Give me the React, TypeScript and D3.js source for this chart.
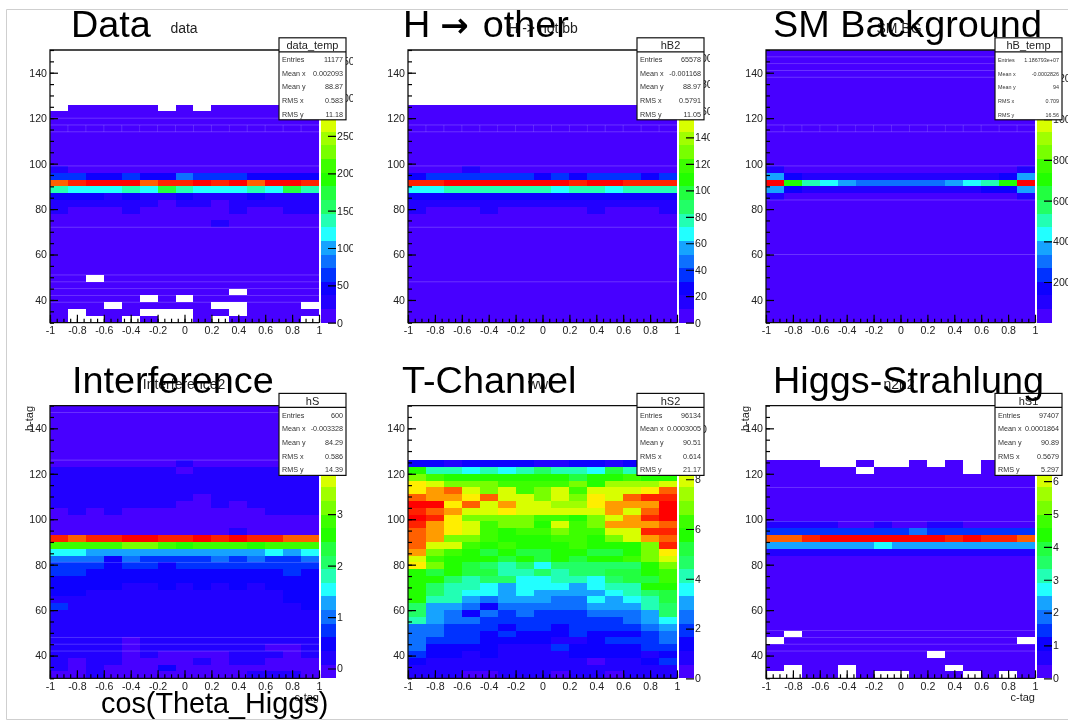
import { useEffect, useRef } from "react";
import * as d3 from "d3";

// contour colours of the ROOT rainbow palette, bottom to top
const PALETTE = [
  "#4700ff", "#2200ff", "#0800ff", "#0032ff", "#1070ff",
  "#14a3ff", "#20ffff", "#20ffb4", "#20ff66", "#20ff40",
  "#20ff00", "#3cff00", "#78ff00", "#a0ff00", "#d8ff00",
  "#ffee00", "#ff9c00", "#ff6000", "#ff2000", "#ff0000",
];

// Each string is one row of 15 cos(theta) bins, top row first (y 147-150 down to 30-33).
// A character is the contour level in base 36, "." is an empty bin.
const EMPTY = "...............";
const ZERO = "000000000000000";
const ONE = "111111111111111";

const dataRows = [
  EMPTY, EMPTY, EMPTY, EMPTY, EMPTY, EMPTY, EMPTY, EMPTY,
  ".00000.0.000000",
  ZERO, ZERO, ZERO, ZERO, ZERO, ZERO, ZERO, ZERO,
  "100000000000000",
  "332232243332222",
  "hijjjhiijijhjji",
  "766676976667697",
  "222121121112111",
  "111111011011111",
  "100010000010011",
  ZERO,
  "000000000100000",
  ZERO, ZERO, ZERO, ZERO, ZERO, ZERO, ZERO,
  "00.000000000000",
  ZERO,
  "0000000000.0000",
  "00000.0.0000000",
  "000.00000..000.",
  "0.000...00.0000",
  "0..0.0..0.0000.",
];

const otherRows = [
  EMPTY, EMPTY, EMPTY, EMPTY, EMPTY, EMPTY, EMPTY, EMPTY,
  ZERO, ZERO, ZERO, ZERO, ZERO, ZERO, ZERO, ZERO, ZERO,
  "000100000000000",
  "233333323233323",
  "iijjjjjjjijjiii",
  "667777776776777",
  "222222222222222",
  ONE,
  "100010000010001",
  ZERO, ZERO, ZERO, ZERO, ZERO, ZERO, ZERO, ZERO,
  ZERO, ZERO, ZERO, ZERO, ZERO, ZERO, ZERO, ZERO,
];

const smRows = [
  ZERO, ZERO, ZERO, ZERO, ZERO, ZERO, ZERO, ZERO,
  ZERO, ZERO, ZERO, ZERO, ZERO, ZERO, ZERO, ZERO,
  ZERO,
  "100000000000001",
  "521111111111125",
  "ja76544444567aj",
  "521111111111225",
  "100000000000001",
  ZERO, ZERO, ZERO, ZERO, ZERO, ZERO, ZERO, ZERO, ZERO,
  ZERO, ZERO, ZERO, ZERO, ZERO, ZERO, ZERO, ZERO, ZERO,
];

const interferenceRows = [
  ZERO, ZERO, ZERO, ZERO, ZERO, ZERO, ZERO, ZERO,
  "000000010000000",
  "111111101111111",
  ONE, ONE, ONE,
  "111111110111111",
  "111111100101111",
  "010100000000111",
  ZERO, ZERO,
  "000000000010000",
  "ihiijjiijijiihh",
  "bbbbccbabbbabbb",
  "665555555555656",
  "444243333434334",
  "333233233333333",
  "332222222222232",
  "222222222222222",
  "222211212121222",
  "221111111111122",
  "111111111111122",
  "311111111111112",
  ONE, ONE, ONE, ONE,
  "111101111111111",
  "111101111111001",
  "111101000011101",
  "101100001011000",
  "101000200000000",
  "001000000001110",
];

const tChannelRows = [
  EMPTY, EMPTY, EMPTY, EMPTY, EMPTY, EMPTY, EMPTY, EMPTY,
  "221222211221222",
  "a77676787769788",
  "cbaaaaaaa9aabaa",
  "fecccbbbbcaddde",
  "fghecebcebeeefh",
  "hggfheececfehii",
  "jjfhegeeddfgggj",
  "ihgeefeeeeegehj",
  "jifccccbbacegij",
  "igfebccaebcgggh",
  "hgfebabbcbbeeii",
  "hgccbaaabbacegh",
  "heebabaaabaaaci",
  "gcba9a99aa99acf",
  "ebaaa9a9a9aabce",
  "fca9878688888ac",
  "a9a9977878899ab",
  "aa878866776899b",
  "a877656665677aa",
  "a87665655556789",
  "a77545554465679",
  "855424444455578",
  "854243433344458",
  "754433333333456",
  "443332332333345",
  "443323222322234",
  "433322221123334",
  "422221113222233",
  "322121111222212",
  "211111111101123",
  ONE,
  "111001110110111",
];

const higgsRows = [
  EMPTY, EMPTY, EMPTY, EMPTY, EMPTY, EMPTY, EMPTY, EMPTY,
  "000..0..0.0.000",
  "00000.00000.000",
  ZERO, ZERO, ZERO, ZERO, ZERO, ZERO, ZERO,
  "111100100110000",
  "333333334333333",
  "hhijjjjjjjijiih",
  "555555655555555",
  ONE,
  ZERO, ZERO, ZERO, ZERO, ZERO, ZERO, ZERO, ZERO, ZERO, ZERO, ZERO,
  "0.0000000000000",
  ".0000000000000.",
  ZERO,
  "000000000.00000",
  ZERO,
  "0.00.00000.0000",
  "..00.0..000.0.0",
];

const xMajor = [-1, -0.8, -0.6, -0.4, -0.2, 0, 0.2, 0.4, 0.6, 0.8, 1];
const yMajor = [40, 60, 80, 100, 120, 140];
const xMinor = d3.range(-20, 21).map((d) => d * 0.05);
const yMinor = d3.range(30, 151, 5);

const statLabels = ["Entries", "Mean x", "Mean y", "RMS x", "RMS y"];

const panels = [
  {
    left: 50, top: 50, rows: dataRows, label: "Data", labelX: 71, small: "data", smallX: 184,
    box: "data_temp", stats: ["11177", "0.002093", "88.87", "0.583", "11.18"],
    zRange: [0, 365], zTicks: [0, 50, 100, 150, 200, 250, 300, 350], clipTo: 353, statSize: 7.2,
    seams: [120, 99, 72, 51, 48, 45, 42, 39, 117, 114], vSeams: true,
  },
  {
    left: 408, top: 50, rows: otherRows, label: "H", labelX: 403, small: "H -> not bb", smallX: 543,
    box: "hB2", stats: ["65578", "-0.001168", "88.97", "0.5791", "11.05"],
    zRange: [0, 206], zTicks: [0, 20, 40, 60, 80, 100, 120, 140, 160, 180, 200], clipTo: 710, statSize: 7.2,
    seams: [99, 72, 48, 117, 114], vSeams: true,
  },
  {
    left: 766, top: 50, rows: smRows, label: "SM Background", labelX: 773, small: "SM BG", smallX: 899,
    box: "hB_temp", stats: ["1.186793e+07", "-0.0002826", "94", "0.709", "16.56"],
    zRange: [0, 13400], zTicks: [2000, 4000, 6000, 8000, 10000, 12000], clipTo: 1068, statSize: 5.4,
    seams: [147, 144, 141, 138, 99, 84, 60, 117, 114], vSeams: true,
  },
  {
    left: 50, top: 405.6, rows: interferenceRows, label: "Interference", labelX: 72, small: "Interference2", smallX: 184,
    box: "hS", stats: ["600", "-0.003328", "84.29", "0.586", "14.39"],
    zRange: [-0.19, 5.11], zTicks: [0, 1, 2, 3, 4, 5], clipTo: 353, statSize: 7.2,
    seams: [147, 126, 48, 45, 42, 81], vSeams: false,
  },
  {
    left: 408, top: 405.6, rows: tChannelRows, label: "T-Channel", labelX: 402, small: "ww", smallX: 538,
    box: "hS2", stats: ["96134", "0.0003005", "90.51", "0.614", "21.17"],
    zRange: [0, 10.96], zTicks: [0, 2, 4, 6, 8, 10], clipTo: 710, statSize: 7.2,
    seams: [], vSeams: false,
  },
  {
    left: 766, top: 405.6, rows: higgsRows, label: "Higgs-Strahlung", labelX: 773, small: "n2n2", smallX: 899,
    box: "hS1", stats: ["97407", "0.0001864", "90.89", "0.5679", "5.297"],
    zRange: [0, 8.3], zTicks: [0, 1, 2, 3, 4, 5, 6, 7, 8], clipTo: 1068, statSize: 7.2,
    seams: [99, 51, 48, 45, 42, 114], vSeams: false,
  },
];

const PLOT_W = 269;
const PLOT_H = 272.7;
const FONT = "'Liberation Sans', Arial, sans-serif";

const App = () => {
  const svgRef = useRef<SVGSVGElement>(null);

  useEffect(() => {
    const svgEl = d3.select(svgRef.current);
    svgEl.selectAll("*").remove();

    // the reference is a resampled screenshot, so everything is slightly soft
    svgEl
      .append("defs")
      .append("filter")
      .attr("id", "soft")
      .attr("filterUnits", "userSpaceOnUse")
      .attr("x", 0)
      .attr("y", 0)
      .attr("width", 1068)
      .attr("height", 720)
      .append("feGaussianBlur")
      .attr("stdDeviation", 0.4);

    const svg = svgEl.append("g").attr("filter", "url(#soft)").attr("font-family", FONT);

    svg
      .append("rect")
      .attr("width", 1068)
      .attr("height", 720)
      .attr("fill", "#fff");

    svg
      .append("path")
      .attr("d", "M1068,9.5H6.5V719.5H1068")
      .attr("fill", "none")
      .attr("stroke", "#cfcfcf");

    panels.forEach((p, idx) => {
      const g = svg.append("g").attr("transform", `translate(${p.left},${p.top})`);
      const x = d3.scaleLinear().domain([-1, 1]).range([0, PLOT_W]);
      const y = d3.scaleLinear().domain([30, 150]).range([PLOT_H, 0]);
      const binW = 2 / 15;

      // 2D histogram cells
      p.rows.forEach((row, r) => {
        const yLow = 147 - r * 3;
        row.split("").forEach((ch, c) => {
          if (ch === ".") return;
          const xLow = -1 + c * binW;
          g.append("rect")
            .attr("x", x(xLow))
            .attr("y", y(yLow + 3))
            .attr("width", x(xLow + binW) - x(xLow))
            .attr("height", y(yLow) - y(yLow + 3))
            .attr("shape-rendering", "crispEdges")
            .attr("fill", PALETTE[parseInt(ch, 36)]);
        });
      });

      // hairlines left by the pdf rasteriser between some rows
      p.seams.forEach((v) => {
        g.append("line")
          .attr("x1", 0)
          .attr("x2", PLOT_W)
          .attr("y1", y(v))
          .attr("y2", y(v))
          .attr("stroke", "#fff")
          .attr("stroke-opacity", 0.2);
      });
      if (p.vSeams) {
        d3.range(1, 15).forEach((c) => {
          g.append("line")
            .attr("x1", x(-1 + c * binW))
            .attr("x2", x(-1 + c * binW))
            .attr("y1", y(117))
            .attr("y2", y(114))
            .attr("stroke", "#fff")
            .attr("stroke-opacity", 0.14);
        });
      }

      // palette
      const z = d3.scaleLinear().domain(p.zRange).range([PLOT_H, 0]);
      const band = d3.scaleBand<number>().domain(d3.range(20)).range([PLOT_H, 0]);
      const barX = PLOT_W + 1.5;
      const barW = 15.5;
      g.selectAll(".contour")
        .data(PALETTE)
        .join("rect")
        .attr("x", barX)
        .attr("y", (_, i) => band(i) as number)
        .attr("width", barW)
        .attr("height", band.bandwidth())
        .attr("shape-rendering", "crispEdges")
        .attr("fill", (d) => d);

      const clipId = `zclip${idx}`;
      svg
        .append("clipPath")
        .attr("id", clipId)
        .append("rect")
        .attr("x", 0)
        .attr("y", 0)
        .attr("width", p.clipTo - p.left)
        .attr("height", PLOT_H + 20);

      const zAxis = g
        .append("g")
        .attr("clip-path", `url(#${clipId})`)
        .append("g")
        .attr("transform", `translate(${barX + barW},0)`)
        .call(
          d3
            .axisRight(z)
            .tickValues(p.zTicks)
            .tickFormat((d) => String(d))
            .tickSize(-8)
            .tickPadding(1)
        );
      zAxis.select(".domain").remove();
      zAxis.selectAll("text").attr("font-size", 10.6).attr("font-family", FONT).attr("fill", "#222");
      zAxis.selectAll("line").attr("stroke", "#000").attr("stroke-width", 1.2);

      // frame
      g.append("path")
        .attr("d", `M${PLOT_W},0H0V${PLOT_H}H${PLOT_W}`)
        .attr("fill", "none")
        .attr("stroke", "#111")
        .attr("stroke-width", 1.3);

      // axes
      const xAxis = g
        .append("g")
        .attr("transform", `translate(0,${PLOT_H})`)
        .call(
          d3
            .axisBottom(x)
            .tickValues(xMajor)
            .tickFormat((d) => String(d))
            .tickSize(-8)
            .tickPadding(4)
        );
      const xMinorAxis = g
        .append("g")
        .attr("transform", `translate(0,${PLOT_H})`)
        .call(d3.axisBottom(x).tickValues(xMinor).tickFormat(() => "").tickSize(-4));
      const yAxis = g.append("g").call(
        d3
          .axisLeft(y)
          .tickValues(yMajor)
          .tickFormat((d) => String(d))
          .tickSize(-8)
          .tickPadding(3)
      );
      const yMinorAxis = g
        .append("g")
        .call(d3.axisLeft(y).tickValues(yMinor).tickFormat(() => "").tickSize(-4));

      [xAxis, xMinorAxis, yAxis, yMinorAxis].forEach((a) => {
        a.select(".domain").remove();
        a.selectAll("line").attr("stroke", "#000").attr("stroke-width", 1.2);
        a.selectAll("text").attr("font-size", 10.6).attr("font-family", FONT).attr("fill", "#222");
      });

      // stats box
      const boxX = p.left + 229;
      const boxY = p.top - 12.2;
      const box = svg.append("g").attr("transform", `translate(${boxX},${boxY})`);
      box
        .append("rect")
        .attr("width", 67)
        .attr("height", 82)
        .attr("fill", "#fff")
        .attr("stroke", "#111")
        .attr("stroke-width", 1.2);
      box
        .append("line")
        .attr("x1", 0)
        .attr("x2", 67)
        .attr("y1", 14)
        .attr("y2", 14)
        .attr("stroke", "#111")
        .attr("stroke-width", 1.2);
      box
        .append("text")
        .attr("x", 33.5)
        .attr("y", 11.5)
        .attr("text-anchor", "middle")
        .attr("font-size", 11)
        .attr("fill", "#222")
        .text(p.box);
      statLabels.forEach((label, i) => {
        const rowY = 24.5 + i * 13.6;
        box
          .append("text")
          .attr("x", 3)
          .attr("y", rowY)
          .attr("font-size", p.statSize)
          .attr("fill", "#333")
          .text(label);
        box
          .append("text")
          .attr("x", 64)
          .attr("y", rowY)
          .attr("text-anchor", "end")
          .attr("font-size", p.statSize)
          .attr("fill", "#333")
          .text(p.stats[i]);
      });

      // small root title under the big slide label
      svg
        .append("text")
        .attr("x", p.smallX)
        .attr("y", p.top - 17)
        .attr("text-anchor", "middle")
        .attr("font-size", 14)
        .attr("fill", "#222")
        .text(p.small);
      const label = svg
        .append("text")
        .attr("x", p.labelX)
        .attr("y", p.top - 13)
        .attr("font-size", 37.8)
        .attr("fill", "#000")
        .text(p.label);
      if (p.label === "H") {
        label
          .append("tspan")
          .attr("dx", 10)
          .attr("font-family", "'DejaVu Sans'")
          .attr("font-weight", "bold")
          .attr("font-size", 34)
          .text("→");
        label.append("tspan").attr("dx", 14).text("other");
      }
    });

    // axis titles
    [50, 766].forEach((left, i) => {
      svg
        .append("text")
        .attr("transform", `translate(${i === 0 ? 33 : 749},406) rotate(-90)`)
        .attr("text-anchor", "end")
        .attr("font-size", 11)
        .attr("fill", "#222")
        .text("b-tag");
      svg
        .append("text")
        .attr("x", left + 269)
        .attr("y", 701)
        .attr("text-anchor", "end")
        .attr("font-size", 11)
        .attr("fill", "#222")
        .text("c-tag");
    });
    svg
      .append("text")
      .attr("x", 101)
      .attr("y", 713)
      .attr("font-size", 28.8)
      .attr("fill", "#000")
      .text("cos(Theta_Higgs)");
  }, []);

  return (
    <svg
      ref={svgRef}
      width="1068"
      height="720"
      style={{ position: "absolute", left: 0, top: 0, background: "#fff" }}
    ></svg>
  );
};

export default App;
